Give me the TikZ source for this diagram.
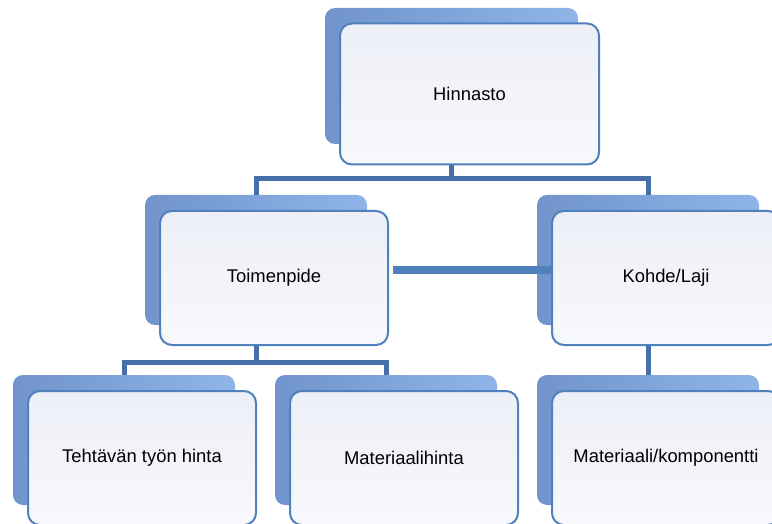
\documentclass[tikz,border=0pt]{standalone}
\usepackage{fontspec}
\setmainfont{Liberation Sans}
\usetikzlibrary{calc}
\definecolor{boxline}{RGB}{79,129,189}
\definecolor{linkblue}{RGB}{71,112,171}
\definecolor{boxfill}{RGB}{237,239,247}
\definecolor{backdark}{RGB}{112,148,203}
\definecolor{backlight}{RGB}{143,181,232}
\tikzset{%
  mynode/.style={draw=boxline, line width=1pt, rounded corners=6pt,
    top color=boxfill, bottom color=boxfill!40!white, text=black, xshift=9pt, yshift=-9pt,
    minimum width=114pt, minimum height=67pt, font=\fontsize{9.2}{11}\selectfont},
  myback/.style={rounded corners=5pt, left color=backdark, right color=backlight,
    minimum width=111pt, minimum height=65pt},
  myedge/.style={draw=linkblue, line width=2.5pt},
  mybar/.style={draw=boxline, line width=4pt, shorten <=2pt}
}

\begin{document}
\begin{tikzpicture}[x=0.5pt, y=-0.5pt]
  \useasboundingbox (0,0) rectangle (772,524);
  \clip (0,0) rectangle (772,524);
  % back boxes
  \node[myback, minimum width=126.5pt, minimum height=68pt] (hin-bg) at (451.5,76) {};
  \node[myback] (toim-bg) at (256,260) {};
  \node[myback] (kohde-bg) at (648,260) {};
  \node[myback] (tehtava-bg) at (124,440) {};
  \node[myback] (matl-bg) at (386,440) {};
  \node[myback] (komp-bg) at (648,440) {};
  % connectors
  \draw[myedge] (hin-bg.south) -- ++(0,34) -| (toim-bg.north);
  \draw[myedge] (hin-bg.south) -- ++(0,34) -| (kohde-bg.north);
  \draw[myedge] (toim-bg.south) -- ++(0,37) -| (tehtava-bg.north);
  \draw[myedge] (toim-bg.south) -- ++(0,37) -| (matl-bg.north);
  \draw[myedge] (kohde-bg.south) -- (komp-bg.north);
  % front boxes
  \node[mynode, minimum width=129.5pt, minimum height=70.5pt] (hin) at (hin-bg) {Hinnasto};
  \node[mynode] (toim) at (toim-bg) {Toimenpide};
  \node[mynode] (kohde) at (kohde-bg) {Kohde/Laji};
  \node[mynode] (tehtava) at (tehtava-bg) {Tehtävän työn hinta};
  \node[mynode] (matl) at (matl-bg) {Materiaalihinta};
  \node[mynode] (komp) at (komp-bg) {Materiaali/komponentti};
  \coordinate (barstart) at ([yshift=4pt]toim.east);
  \draw[mybar] (barstart) -- (barstart -| kohde.west);
\end{tikzpicture}
\end{document}
